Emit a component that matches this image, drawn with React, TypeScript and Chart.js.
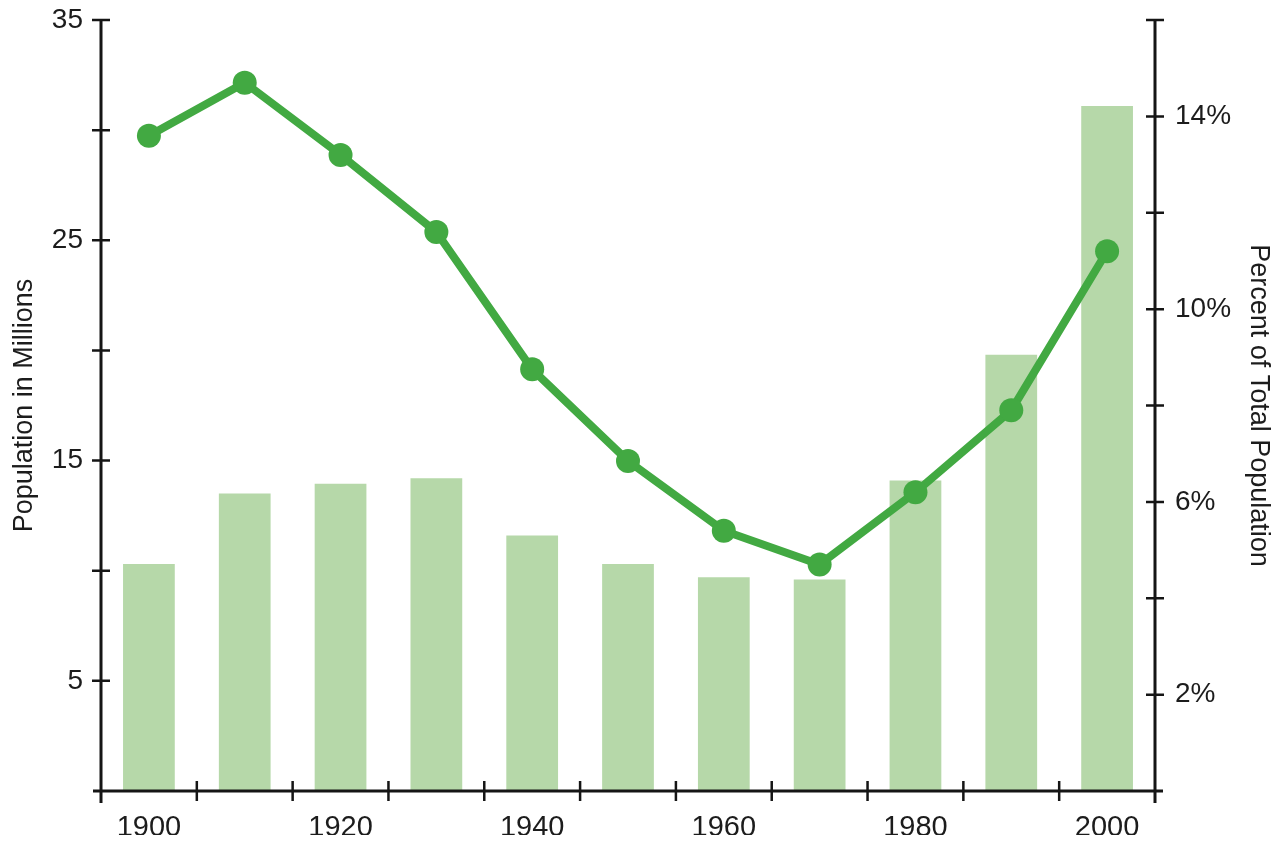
import React, { useEffect, useRef } from "react";
import { Chart, registerables } from "chart.js";

Chart.register(...registerables);

const years: string[] = ["1900", "1910", "1920", "1930", "1940", "1950", "1960", "1970", "1980", "1990", "2000"];
const populationMillions: number[] = [10.3, 13.5, 13.95, 14.2, 11.6, 10.3, 9.7, 9.6, 14.1, 19.8, 31.1];
const percentOfTotal: number[] = [13.6, 14.7, 13.2, 11.6, 8.75, 6.85, 5.4, 4.7, 6.2, 7.9, 11.2];
const leftLabelValues: number[] = [5, 15, 25, 35];
const rightLabelValues: number[] = [2, 6, 10, 14];
const xLabelYears: string[] = ["1900", "1920", "1940", "1960", "1980", "2000"];

const FONT = "'Liberation Sans', Arial, Helvetica, sans-serif";
const TEXT = "#1c1c1c";
const AXIS = "#151515";

const axisPlugin = {
  id: "crossAxes",
  afterDatasetsDraw(chart: any) {
    const { ctx, chartArea, scales } = chart;
    const x = scales.x;
    const yl = scales.y;
    const yr = scales.y1;
    const L = chartArea.left;
    const R = chartArea.right;
    const T = chartArea.top;
    const B = chartArea.bottom;
    const ext = 12;
    const half = 9;
    ctx.save();
    ctx.strokeStyle = AXIS;
    ctx.lineWidth = 3;
    ctx.lineCap = "butt";
    ctx.beginPath();
    ctx.moveTo(L, T);
    ctx.lineTo(L, B + ext);
    ctx.moveTo(R, T);
    ctx.lineTo(R, B + ext);
    ctx.moveTo(L - 8, B);
    ctx.lineTo(R + 8, B);
    ctx.stroke();
    ctx.lineWidth = 2.5;
    ctx.beginPath();
    yl.ticks.forEach((t: any) => {
      if (t.value === 0) return;
      const py = yl.getPixelForValue(t.value);
      ctx.moveTo(L - half, py);
      ctx.lineTo(L + half, py);
    });
    yr.ticks.forEach((t: any) => {
      if (t.value === 0) return;
      const py = yr.getPixelForValue(t.value);
      ctx.moveTo(R - half, py);
      ctx.lineTo(R + half, py);
    });
    for (let i = 1; i < years.length; i++) {
      const px = x.getPixelForValue(i - 0.5);
      ctx.moveTo(px, B - 10);
      ctx.lineTo(px, B + 10);
    }
    ctx.stroke();
    ctx.restore();
  },
};

export default function App() {
  const ref = useRef<HTMLCanvasElement | null>(null);
  useEffect(() => {
    if (!ref.current) return;
    const chart = new Chart(ref.current, {
      type: "bar",
      data: {
        labels: years,
        datasets: [
          {
            type: "line",
            label: "Percent of Total Population",
            data: percentOfTotal,
            yAxisID: "y1",
            borderColor: "#42a942",
            backgroundColor: "#42a942",
            borderWidth: 8,
            pointRadius: 12,
            pointBorderWidth: 0,
            pointBackgroundColor: "#42a942",
            tension: 0,
            order: 0,
          } as any,
          {
            type: "bar",
            label: "Population in Millions",
            data: populationMillions,
            yAxisID: "y",
            backgroundColor: "#b6d8a9",
            borderWidth: 0,
            barPercentage: 0.54,
            categoryPercentage: 1,
            order: 1,
          },
        ],
      },
      options: {
        responsive: false,
        animation: false,
        devicePixelRatio: 1,
        layout: { padding: { top: 9, left: 0, right: 0, bottom: 0 } },
        plugins: {
          legend: { display: false },
          tooltip: { enabled: false },
        },
        scales: {
          x: {
            type: "category",
            offset: true,
            grid: { display: false, drawTicks: false, offset: true },
            border: { display: false },
            ticks: {
              autoSkip: false,
              maxRotation: 0,
              minRotation: 0,
              padding: 20,
              color: TEXT,
              font: { family: FONT, size: 29 },
              callback: (_v: any, i: number) => (xLabelYears.includes(years[i]) ? years[i] : ""),
            },
            afterFit: (s: any) => {
              s.height = 52;
              s.paddingLeft = 0;
              s.paddingRight = 0;
            },
          },
          y: {
            position: "left",
            min: 0,
            max: 35,
            grid: { display: false, drawTicks: false },
            border: { display: false },
            ticks: {
              stepSize: 5,
              padding: 18,
              color: TEXT,
              font: { family: FONT, size: 28 },
              callback: (v: any) => (leftLabelValues.includes(Number(v)) ? String(v) : ""),
            },
            title: {
              display: true,
              text: "Population in Millions",
              color: TEXT,
              padding: 0,
              font: { family: FONT, size: 27 },
            },
            afterFit: (s: any) => {
              s.width = 93;
              s.paddingTop = 0;
              s.paddingBottom = 0;
            },
          },
          y1: {
            position: "right",
            min: 0,
            max: 16,
            grid: { display: false, drawTicks: false },
            border: { display: false },
            ticks: {
              stepSize: 2,
              padding: 20,
              color: TEXT,
              font: { family: FONT, size: 28 },
              callback: (v: any) => (rightLabelValues.includes(Number(v)) ? v + "%" : ""),
            },
            title: {
              display: true,
              text: "Percent of Total Population",
              color: TEXT,
              padding: 0,
              font: { family: FONT, size: 27 },
            },
            afterFit: (s: any) => {
              s.width = 120;
              s.paddingTop = 0;
              s.paddingBottom = 0;
            },
          },
        },
      },
      plugins: [axisPlugin],
    });
    return () => chart.destroy();
  }, []);
  return (
    <div style={{ height: 827 }}>
      <canvas ref={ref} width={1267} height={835} style={{ display: "block" }} />
    </div>
  );
}
